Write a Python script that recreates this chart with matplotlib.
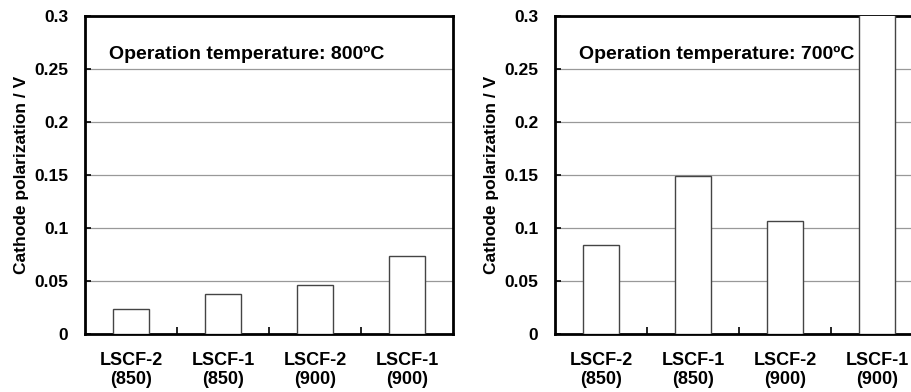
import numpy as np
import matplotlib.pyplot as plt

plt.rcParams['font.family'] = ['Liberation Sans', 'DejaVu Sans']
plt.rcParams['font.weight'] = 'bold'

categories = ['LSCF-2\n(850)', 'LSCF-1\n(850)', 'LSCF-2\n(900)', 'LSCF-1\n(900)']
pol_800 = [0.0237, 0.038, 0.046, 0.0734]
pol_700 = [0.084, 0.149, 0.107, 0.32]   # last bar runs off the top of the axes
titles = ['Operation temperature: 800ºC', 'Operation temperature: 700ºC']

fig = plt.figure(figsize=(9.12, 3.92), dpi=100)
# right panel is deliberately wider than the figure, like the cropped original
ax1 = fig.add_axes([85/912, 58/392, 368/912, 318/392])
ax2 = fig.add_axes([555/912, 58/392, 368/912, 318/392])

for ax, vals, title in [(ax1, pol_800, titles[0]), (ax2, pol_700, titles[1])]:
    x = np.arange(len(categories))
    ax.bar(x, vals, width=0.4, color='white', edgecolor='#444444', linewidth=1.0, zorder=3)
    ax.set_xlim(-0.5, len(categories) - 0.5)
    ax.set_ylim(0, 0.3)

    # horizontal grid
    ax.set_yticks([0, 0.05, 0.1, 0.15, 0.2, 0.25, 0.3])
    ax.set_yticklabels(['0', '0.05', '0.1', '0.15', '0.2', '0.25', '0.3'], fontsize=12.5, fontweight='bold')
    ax.grid(axis='y', color='#999999', linewidth=0.9, zorder=0)

    # category labels centered, ticks at the boundaries
    ax.set_xticks(x)
    ax.set_xticklabels(categories, fontsize=13, fontweight='bold', linespacing=1.12)
    ax.tick_params(axis='x', which='major', length=0, pad=13)
    ax.set_xticks(np.arange(0.5, len(categories) - 0.5), minor=True)
    ax.tick_params(axis='x', which='minor', direction='in', length=5, width=1.2)
    ax.tick_params(axis='y', direction='in', length=4, width=1.2, pad=12)

    for side in ['left', 'bottom', 'top', 'right']:
        ax.spines[side].set_linewidth(2)
        ax.spines[side].set_color('black')
    ax.spines['left'].set_zorder(5)

    ax.set_ylabel('Cathode polarization / V', fontsize=12.5, fontweight='bold', labelpad=4)
    ax.text(0.065, 0.88, title, transform=ax.transAxes, fontsize=14, fontweight='bold',
            va='center', ha='left', zorder=6)

plt.savefig('out.png', dpi=100)
